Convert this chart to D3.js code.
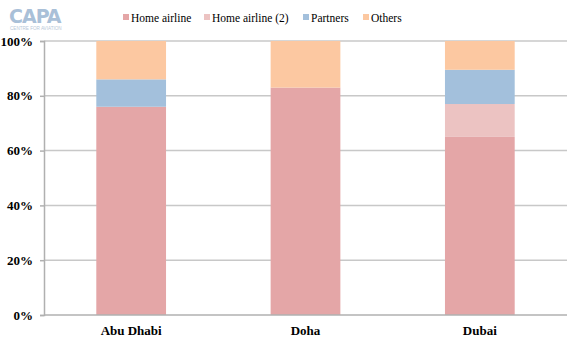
<!DOCTYPE html>
<html><head><meta charset="utf-8">
<script src="https://cdn.jsdelivr.net/npm/d3@7"></script>
<style>
body{margin:0;background:#fff}svg{display:block}
</style>
</head><body>
<svg id="c" width="577" height="344"></svg>
<script>
const categories = ["Abu Dhabi", "Doha", "Dubai"];
const seriesNames = ["Home airline", "Home airline (2)", "Partners", "Others"];
const homeAirline = [0.76, 0.83, 0.65];
const homeAirline2 = [0, 0, 0.12];
const partners = [0.10, 0, 0.125];
const others = [0.14, 0.17, 0.105];
const yTicks = [0, 0.2, 0.4, 0.6, 0.8, 1.0];
const colors = ["#e4a6a7", "#ecc3c2", "#a3c0dc", "#fcc8a1"];

const serif = "Liberation Serif";

const rows = categories.map((c, i) => ({cat: c, "Home airline": homeAirline[i], "Home airline (2)": homeAirline2[i], "Partners": partners[i], "Others": others[i]}));
const stacked = d3.stack().keys(seriesNames)(rows);

const svg = d3.select("#c");
const m = {l: 44, r: 10, t: 41, b: 29};
const W = 577, H = 344;
const x = d3.scaleBand().domain(categories).range([m.l, W - m.r]).paddingInner(0.6).paddingOuter(0.3);
const y = d3.scaleLinear().domain([0, 1]).range([H - m.b, m.t]);

svg.append("g").selectAll("line").data(yTicks.filter(t => t > 0)).join("line")
  .attr("x1", m.l).attr("x2", W - m.r)
  .attr("y1", d => y(d)).attr("y2", d => y(d))
  .attr("stroke", "#c8c8c8").attr("stroke-width", 1.5);

svg.append("g").selectAll("g").data(stacked).join("g")
  .attr("fill", (d, i) => colors[i])
  .selectAll("rect").data(d => d).join("rect")
  .attr("x", d => x(d.data.cat))
  .attr("width", x.bandwidth())
  .attr("y", d => y(d[1]))
  .attr("height", d => Math.max(0, y(d[0]) - y(d[1])));

const ya = svg.append("g").attr("transform", `translate(${m.l},0)`)
  .call(d3.axisLeft(y).tickValues(yTicks).tickFormat(d3.format(".0%")).tickSize(4).tickPadding(7));
ya.attr("font-family", serif);
ya.select(".domain").attr("stroke", "#b0b0b0").attr("stroke-width", 1.5);
ya.selectAll(".tick line").attr("stroke", "#b0b0b0").attr("stroke-width", 1.5);
ya.selectAll("text").style("font-family", serif).attr("font-weight", "bold").attr("font-size", 13).attr("fill", "#000");

const xa = svg.append("g").attr("transform", `translate(0,${H - m.b})`)
  .call(d3.axisBottom(x).tickSize(0).tickPadding(11));
xa.attr("font-family", serif);
xa.select(".domain").attr("stroke", "#b0b0b0").attr("stroke-width", 1.5).attr("d", `M${m.l},0H${W - m.r}`);
xa.selectAll("text").style("font-family", serif).attr("font-weight", "bold").attr("font-size", 13).attr("fill", "#000");

const legX = [123, 204, 303, 363];
const leg = svg.append("g");
seriesNames.forEach((n, i) => {
  leg.append("rect").attr("x", legX[i]).attr("y", 14).attr("width", 6).attr("height", 6).attr("fill", colors[i]);
  leg.append("text").style("font-family", serif).attr("x", legX[i] + 8).attr("y", 22).text(n)
    .attr("font-size", 11.5).attr("fill", "#000");
});

svg.append("text").style("font-family", "DejaVu Sans").attr("x", 9).attr("y", 23).text("CAPA")
  .style("font-weight", "bold").attr("font-size", 19).attr("fill", "#a9c0d8").attr("letter-spacing", -1);
svg.append("text").style("font-family", "Liberation Sans").attr("x", 10).attr("y", 30).text("CENTRE FOR AVIATION")
  .attr("font-size", 4.6).attr("fill", "#b8c8d8");
</script>
</body></html>
